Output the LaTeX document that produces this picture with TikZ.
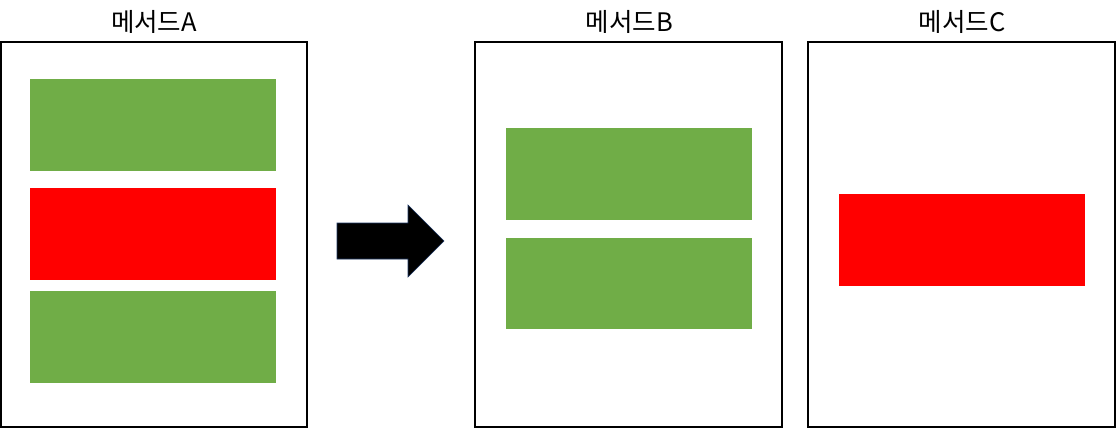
\documentclass[tikz,border=0pt]{standalone}
\usepackage{fontspec}
\newfontfamily\kr{Noto Sans CJK KR}
\definecolor{grn}{HTML}{70AD47}
\definecolor{rd}{HTML}{FF0000}
\definecolor{navy}{HTML}{1F3864}
\begin{document}
\begin{tikzpicture}[x=1pt,y=-1pt,
  frame/.style={draw=black,line width=1.3pt,fill=white,minimum width=306pt,minimum height=385pt,inner sep=0pt},
  gblock/.style={fill=grn,minimum width=246pt,minimum height=92pt,inner sep=0pt},
  rblock/.style={fill=rd,minimum width=246pt,minimum height=92pt,inner sep=0pt},
  title/.style={font=\kr\fontsize{25.5pt}{28pt}\selectfont,inner sep=0pt}]
\useasboundingbox (0,0) rectangle (1116,428);
% frames
\node[frame] (fa) at (154,234.5) {};
\node[frame,minimum width=307pt] (fb) at (628.5,234.5) {};
\node[frame,minimum width=307pt] (fc) at (961.5,234.5) {};
% titles
\node[title] (ta) at (154,21.5) {메서드A};
\node[title] (tb) at (629.5,21.5) {메서드B};
\node[title] (tc) at (962,21.5) {메서드C};
% blocks A
\node[gblock] (a1) at (153,125) {};
\node[rblock] (a2) at (153,234) {};
\node[gblock] (a3) at (153,337) {};
% blocks B
\node[gblock] (b1) at (629,174) {};
\node[gblock,minimum height=91pt] (b2) at (629,283.5) {};
% block C
\node[rblock] (c1) at (961.5,240) {};
% arrow
\draw[draw=navy,line width=0.6pt,fill=black]
  (337,223) -- (408,223) -- (408,205) -- (444,241) -- (408,277) -- (408,259) -- (337,259) -- cycle;
\end{tikzpicture}
\end{document}
